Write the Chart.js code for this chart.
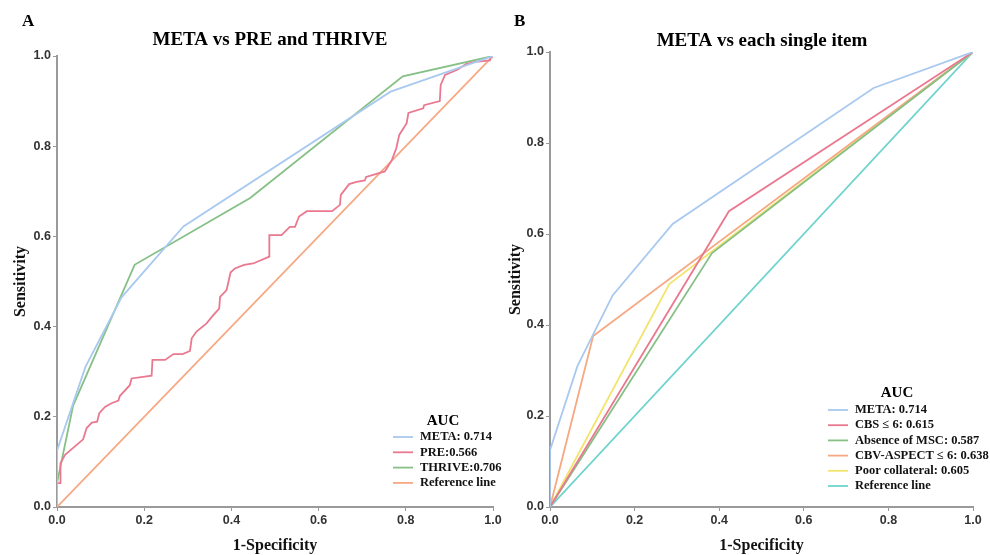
<!DOCTYPE html>
<html>
<head>
<meta charset="utf-8">
<script src="https://cdn.jsdelivr.net/npm/chart.js@4.4.0/dist/chart.umd.min.js"></script>
<style>
  html, body { margin: 0; padding: 0; background: #fff; }
  #wrap { position: relative; width: 990px; height: 555px; overflow: hidden; }
  .box { position: absolute; top: 0; height: 555px; }
  #boxA { left: 0; width: 505px; z-index: 1; }
  #boxB { left: 495px; width: 495px; z-index: 2; }
</style>
</head>
<body>
<div id="wrap">
  <div class="box" id="boxA"><canvas id="chartA"></canvas></div>
  <div class="box" id="boxB"><canvas id="chartB"></canvas></div>
</div>
<script>
// ---------- Data ----------
const tickValues = [0, 0.2, 0.4, 0.6, 0.8, 1.0];

// Panel A
const metaFPR = [0, 0, 0.065, 0.148, 0.29, 0.765, 1];
const metaTPR = [0, 0.125, 0.31, 0.465, 0.622, 0.921, 1];

const thriveFPR = [0, 0, 0.037, 0.178, 0.443, 0.793, 1];
const thriveTPR = [0, 0.053, 0.225, 0.537, 0.685, 0.955, 1];

const preFPR = [0, 0, 0.008, 0.008, 0.018, 0.037, 0.06, 0.068, 0.08, 0.092, 0.097, 0.11, 0.125, 0.141, 0.144, 0.167,
  0.171, 0.217, 0.219, 0.248, 0.267, 0.288, 0.305, 0.309, 0.32, 0.343, 0.359, 0.372, 0.374, 0.389, 0.398, 0.408,
  0.429, 0.45, 0.487, 0.487, 0.515, 0.534, 0.546, 0.555, 0.573, 0.631, 0.649, 0.651, 0.67, 0.687, 0.706, 0.709,
  0.752, 0.768, 0.778, 0.785, 0.802, 0.806, 0.84, 0.842, 0.878, 0.88, 0.89, 0.917, 0.938, 0.959, 0.993, 0.995, 1];
const preTPR = [0, 0.053, 0.053, 0.097, 0.115, 0.131, 0.15, 0.175, 0.187, 0.189, 0.208, 0.222, 0.23, 0.236, 0.246, 0.27,
  0.285, 0.291, 0.326, 0.326, 0.339, 0.339, 0.346, 0.374, 0.389, 0.407, 0.426, 0.44, 0.466, 0.481, 0.52, 0.529,
  0.537, 0.54, 0.555, 0.603, 0.603, 0.621, 0.621, 0.644, 0.656, 0.656, 0.67, 0.692, 0.716, 0.721, 0.724, 0.732,
  0.744, 0.769, 0.795, 0.825, 0.851, 0.874, 0.884, 0.891, 0.9, 0.936, 0.958, 0.969, 0.982, 0.987, 0.99, 0.998, 1];

const refFPR = [0, 1];
const refTPR = [0, 1];

// Panel B
const cbsFPR = [0, 0.423, 1];
const cbsTPR = [0, 0.65, 1];
const mscFPR = [0, 0.383, 1];
const mscTPR = [0, 0.558, 1];
const cbvFPR = [0, 0.102, 1];
const cbvTPR = [0, 0.376, 1];
const collFPR = [0, 0.282, 1];
const collTPR = [0, 0.49, 1];

const labelsA = ['META: 0.714', 'PRE:0.566', 'THRIVE:0.706', 'Reference line'];
const labelsB = ['META: 0.714', 'CBS \u2264 6: 0.615', 'Absence of MSC: 0.587', 'CBV-ASPECT \u2264 6: 0.638', 'Poor collateral: 0.605', 'Reference line'];

// ---------- Styling ----------
const COLORS = {
  meta: '#a9c9ef',
  red: '#ea7990',
  green: '#86c086',
  orange: '#f6a883',
  yellow: '#f3e46c',
  cyan: '#6fd3cd'
};

function pts(xs, ys) { return xs.map((x, i) => ({ x: x, y: ys[i] })); }

function ds(label, xs, ys, color) {
  return {
    label: label,
    data: pts(xs, ys),
    borderColor: color,
    backgroundColor: color,
    borderWidth: 1.8,
    pointRadius: 0,
    showLine: true,
    tension: 0,
    fill: false
  };
}

const SERIF = '"Liberation Serif", "Times New Roman", serif';
const SANS = '"Liberation Sans", Arial, sans-serif';

// Custom plugin: panel letter, title and legend inside the plot area
const decorPlugin = {
  id: 'decor',
  afterDraw(chart, args, opts) {
    const ctx = chart.ctx;
    ctx.save();
    ctx.fillStyle = '#000';
    ctx.font = 'bold 17px ' + SERIF;
    ctx.textAlign = 'left';
    ctx.textBaseline = 'middle';
    ctx.fillText(opts.letter, opts.letterX, opts.letterY);
    ctx.font = 'bold 19px ' + SERIF;
    ctx.textAlign = 'center';
    ctx.fillText(opts.title, opts.titleX, opts.titleY);
    const items = chart.data.datasets;
    ctx.font = 'bold 15px ' + SERIF;
    ctx.textAlign = 'center';
    ctx.fillText('AUC', opts.legX + opts.aucDx, opts.legY);
    ctx.font = 'bold 12.5px ' + SERIF;
    ctx.textAlign = 'left';
    items.forEach((d, i) => {
      const y = opts.legY + opts.firstDy + i * opts.rowH;
      ctx.strokeStyle = d.borderColor;
      ctx.lineWidth = 1.8;
      ctx.beginPath();
      ctx.moveTo(opts.legX, y);
      ctx.lineTo(opts.legX + 20, y);
      ctx.stroke();
      ctx.fillStyle = '#111';
      ctx.fillText(d.label, opts.legX + 27, y);
    });
    ctx.restore();
  }
};

function axisOpts(titleText, isX, fixedSize) {
  return {
    type: 'linear',
    min: 0,
    max: 1,
    afterBuildTicks: (s) => { s.ticks = tickValues.map(v => ({ value: v })); },
    afterFit: (s) => {
      if (isX) { s.height = fixedSize; s.paddingLeft = 0; s.paddingRight = 0; }
      else { s.width = fixedSize; s.paddingTop = 0; s.paddingBottom = 0; }
    },
    ticks: {
      callback: (v) => Number(v).toFixed(1),
      font: { family: SANS, size: 12.5, weight: 'bold' },
      color: '#333',
      padding: 2,
      maxRotation: 0,
      autoSkip: false
    },
    grid: {
      display: true,
      drawOnChartArea: false,
      drawTicks: true,
      tickLength: 4,
      color: '#999',
      lineWidth: 1
    },
    border: { display: true, color: '#9a9a9a', width: 2 },
    title: {
      display: true,
      text: titleText,
      font: { family: SERIF, size: 16, weight: 'bold' },
      color: '#111',
      padding: isX ? { top: 14, bottom: 0 } : { top: 11, bottom: 4 }
    }
  };
}

function makeChart(id, datasets, pad, decor) {
  return new Chart(document.getElementById(id), {
    type: 'scatter',
    data: { datasets: datasets },
    options: {
      responsive: true,
      maintainAspectRatio: false,
      animation: false,
      layout: { padding: { left: pad.left, right: pad.right, top: pad.top, bottom: pad.bottom } },
      plugins: {
        legend: { display: false },
        tooltip: { enabled: false },
        title: { display: false },
        decor: decor
      },
      scales: {
        x: axisOpts('1-Specificity', true, 48),
        y: axisOpts('Sensitivity', false, pad.yWidth)
      }
    },
    plugins: [decorPlugin]
  });
}

makeChart('chartA', [
  ds(labelsA[0], metaFPR, metaTPR, COLORS.meta),
  ds(labelsA[1], preFPR, preTPR, COLORS.red),
  ds(labelsA[2], thriveFPR, thriveTPR, COLORS.green),
  ds(labelsA[3], refFPR, refTPR, COLORS.orange)
], { left: 0, right: 12, top: 56, bottom: 0, yWidth: 57 }, {
  letter: 'A', letterX: 22, letterY: 22,
  title: 'META vs PRE and THRIVE', titleX: 270, titleY: 40,
  legX: 393, legY: 421, aucDx: 50, firstDy: 16, rowH: 15.3
});

makeChart('chartB', [
  ds(labelsB[0], metaFPR, metaTPR, COLORS.meta),
  ds(labelsB[1], cbsFPR, cbsTPR, COLORS.red),
  ds(labelsB[2], mscFPR, mscTPR, COLORS.green),
  ds(labelsB[3], cbvFPR, cbvTPR, COLORS.orange),
  ds(labelsB[4], collFPR, collTPR, COLORS.yellow),
  ds(labelsB[5], refFPR, refTPR, COLORS.cyan)
], { left: 0, right: 17, top: 52, bottom: 0, yWidth: 55 }, {
  letter: 'B', letterX: 19, letterY: 22,
  title: 'META vs each single item', titleX: 267, titleY: 41,
  legX: 333, legY: 393, aucDx: 69, firstDy: 17, rowH: 15.2
});
</script>
</body>
</html>
